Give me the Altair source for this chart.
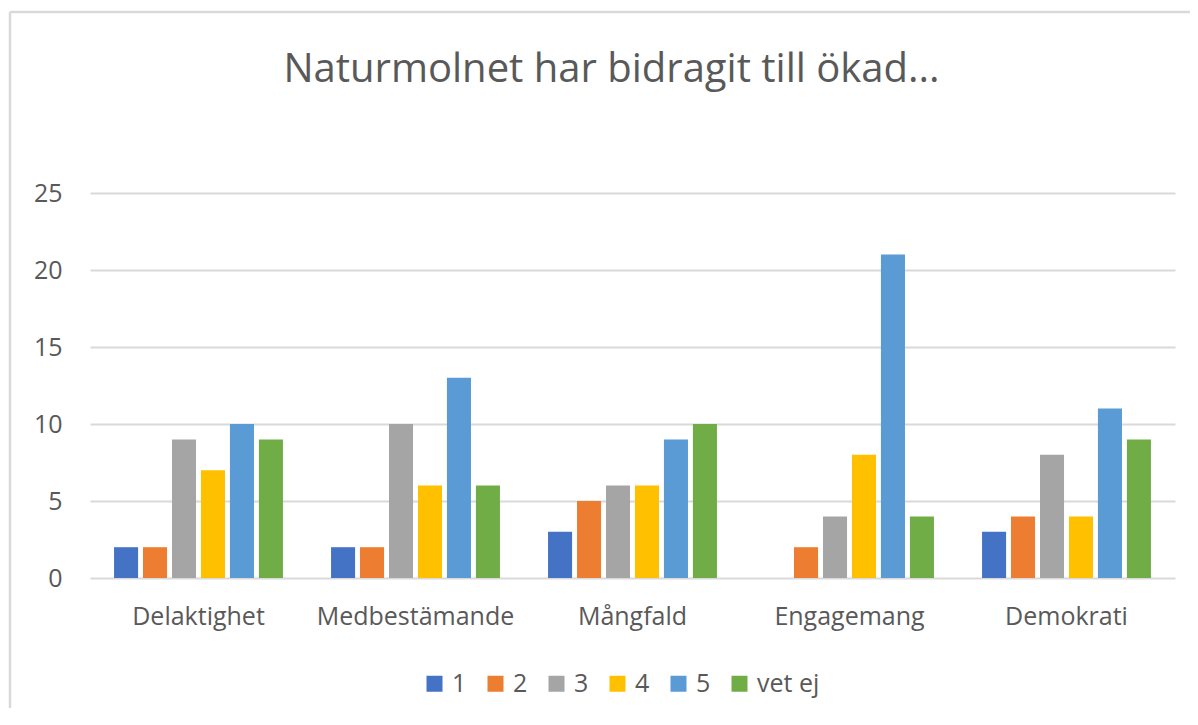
import altair as alt
import pandas as pd

categories = ["Delaktighet", "Medbestämande", "Mångfald", "Engagemang", "Demokrati"]
series = ["1", "2", "3", "4", "5", "vet ej"]
values = {
    "1": [2, 2, 3, 0, 3],
    "2": [2, 2, 5, 2, 4],
    "3": [9, 10, 6, 4, 8],
    "4": [7, 6, 6, 8, 4],
    "5": [10, 13, 9, 21, 11],
    "vet ej": [9, 6, 10, 4, 9],
}
colors = ["#4472C4", "#ED7D31", "#A5A5A5", "#FFC000", "#5B9BD5", "#70AD47"]
y_ticks = [0, 5, 10, 15, 20, 25]

rows = []
for s in series:
    for c, v in zip(categories, values[s]):
        rows.append({"Kategori": c, "Serie": s, "Antal": v})
df = pd.DataFrame(rows)

FONT = "Open Sans"
TXT = "#595959"

bars = alt.Chart(df).mark_bar().encode(
    x=alt.X("Kategori:N", sort=categories,
            scale=alt.Scale(paddingInner=0, paddingOuter=0),
            axis=alt.Axis(title=None, labelAngle=0, domain=False, ticks=False,
                          labelFontSize=25, labelColor=TXT, labelFont=FONT,
                          labelPadding=26, labelLimit=0, grid=False)),
    xOffset=alt.XOffset("Serie:N", sort=series,
                        scale=alt.Scale(paddingInner=0.17, paddingOuter=0.83)),
    y=alt.Y("Antal:Q", scale=alt.Scale(domain=[0, 25], nice=False),
            axis=alt.Axis(title=None, values=y_ticks, domain=False, ticks=False,
                          labelFontSize=25, labelColor=TXT, labelFont=FONT,
                          labelPadding=28, gridColor="#D9D9D9", gridWidth=2)),
    color=alt.Color("Serie:N", sort=series,
                    scale=alt.Scale(domain=series, range=colors),
                    legend=alt.Legend(title=None, orient="none", direction="horizontal",
                                      legendX=332, legendY=478,
                                      symbolType="square", symbolSize=256,
                                      symbolStrokeWidth=0,
                                      labelFontSize=25, labelColor=TXT, labelFont=FONT,
                                      labelOffset=5, columnPadding=16)),
)

frame_df = pd.DataFrame({"a": [0]})
left_line = alt.Chart(frame_df).mark_rule(color="#D9D9D9", strokeWidth=2.5).encode(
    x=alt.value(-80), y=alt.value(-181), y2=alt.value(560))
top_line = alt.Chart(frame_df).mark_rule(color="#D9D9D9", strokeWidth=2.5).encode(
    x=alt.value(-80), x2=alt.value(1110), y=alt.value(-181))

chart = alt.layer(left_line, top_line, bars).properties(
    width=1085, height=385,
    title=alt.TitleParams("Naturmolnet har bidragit till ökad...", fontSize=40,
                          font=FONT, color=TXT, fontWeight="normal",
                          anchor="middle", dx=-21, offset=0, dy=79),
    autosize=alt.AutoSizeParams(type="none"),
    padding={"left": 82, "top": 185, "right": 15, "bottom": 130},
).configure(background="white", view=alt.ViewConfig(strokeWidth=0))

chart.save("out.html", embed_options={"renderer": "svg", "actions": False})
